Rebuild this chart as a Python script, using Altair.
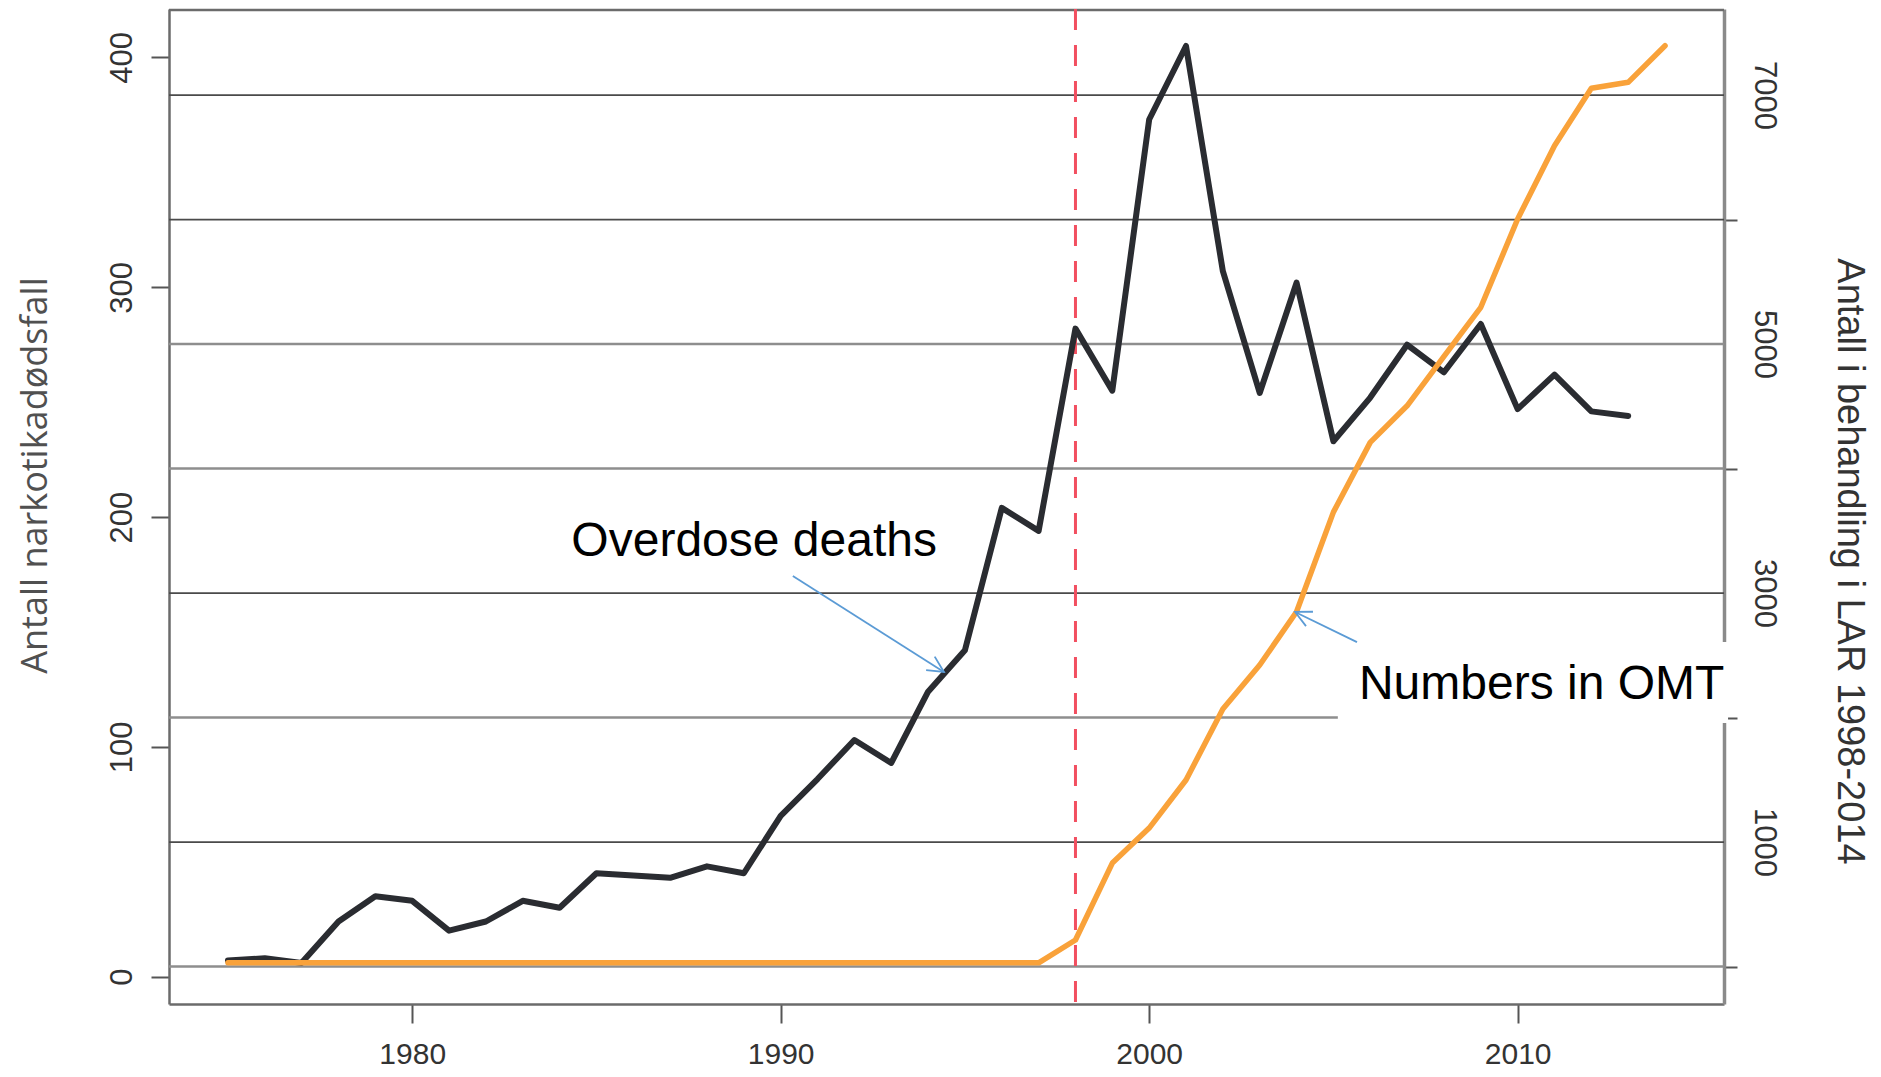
import altair as alt
import pandas as pd

# ---------------- data ----------------
years_deaths = list(range(1975, 2014))
deaths = [7, 8, 6, 24, 35, 33, 20, 24, 33, 30,
          45, 44, 43, 48, 45, 70, 86, 103, 93, 124,
          142, 204, 194, 282, 255, 373, 405, 307, 254, 302,
          233, 252, 275, 263, 284, 247, 262, 246, 244]

years_omt = list(range(1975, 2015))
omt = [30] * 23 + [213, 831, 1112, 1498, 2068, 2422, 2850, 3650, 4210,
                   4504, 4901, 5295, 6004, 6593, 7054, 7102, 7396]

x_ticks = [1980, 1990, 2000, 2010]
left_ticks = [0, 100, 200, 300, 400]
right_ticks = [0, 1000, 2000, 3000, 4000, 5000, 6000, 7000]
grid_dark = [1000, 3000, 6000, 7000]
grid_light = [0, 2000, 4000, 5000]
marker_year = [1998]

left_title = "Antall narkotikadødsfall"
right_title = "Antall i behandling i LAR 1998-2014"

# annotations (data coordinates: year, left-axis value)
ann_text = ["Overdose deaths", "Numbers in OMT"]
ann_x = [1989.28, 2010.65]
ann_y = [183.1, 120.8]
arrow_x1 = [1990.33, 2005.64]
arrow_y1 = [174.4, 145.6]
arrow_x2 = [1994.43, 2003.96]
arrow_y2 = [132.6, 158.7]
arrow_angle = [32.45, 205.8]
box_x1, box_x2, box_y1, box_y2 = [2005.12], [2015.71], [110.4], [145.6]

# ---------------- scales ----------------
X_DOM = [1973.4, 2015.6]
YL_DOM = [-11.9, 421.1]
YR_DOM = [-301, 7691]
xs = alt.Scale(domain=X_DOM, nice=False, zero=False)
yl = alt.Scale(domain=YL_DOM, nice=False, zero=False)
yr = alt.Scale(domain=YR_DOM, nice=False, zero=False)

W, H = 1555, 995

x_axis = alt.Axis(orient="bottom", values=x_ticks, format="d", title=None, grid=False,
                  tickSize=19, tickColor="#555", tickWidth=2, labelPadding=16,
                  labelFont="Liberation Sans", labelFontSize=30, labelColor="#333",
                  labelFlush=False, labelOverlap=False,
                  domain=True, domainColor="#6b6b6b", domainWidth=2.5)

left_axis = alt.Axis(orient="left", values=left_ticks, format="d", grid=False,
                     tickSize=18, tickColor="#555", tickWidth=2, labelPadding=20,
                     labelAngle=270, labelAlign="center", labelBaseline="alphabetic",
                     labelFont="Liberation Sans", labelFontSize=31, labelColor="#333",
                     labelFlush=False, labelOverlap=False,
                     domain=True, domainColor="#6b6b6b", domainWidth=2.5,
                     title=left_title, titleFont="Open Sans", titleFontSize=36,
                     titleFontWeight="normal", titleColor="#505050", titleAngle=270,
                     titleX=-134, titleY=466, titleAlign="center", titleBaseline="middle")

right_axis = alt.Axis(orient="right", values=right_ticks, format="d", grid=False,
                      labelExpr="datum.value % 2000 === 0 ? '' : datum.label",
                      tickOpacity={"condition": {"test": "datum.value % 2000 === 0", "value": 1}, "value": 0},
                      tickSize=13, tickColor="#555", tickWidth=2, labelPadding=17,
                      labelAngle=90, labelAlign="center", labelBaseline="alphabetic",
                      labelFont="Liberation Sans", labelFontSize=31, labelColor="#333",
                      labelFlush=False, labelOverlap=False,
                      domain=True, domainColor="#8a8a8a", domainWidth=3.5,
                      title=right_title, titleFont="Liberation Sans", titleFontSize=38,
                      titleFontWeight="normal", titleColor="#333", titleAngle=90,
                      titleX=113, titleY=552, titleAlign="center", titleBaseline="alphabetic")

# ---------------- layers ----------------
df_gd = pd.DataFrame({"r": grid_dark})
df_gl = pd.DataFrame({"r": grid_light})

grid_d = alt.Chart(df_gd).mark_rule(color="#4a4a4a", strokeWidth=1.8).encode(
    y=alt.Y("r:Q", scale=yr, axis=None))
grid_l = alt.Chart(df_gl).mark_rule(color="#8e8e8e", strokeWidth=2.4).encode(
    y=alt.Y("r:Q", scale=yr, axis=None))

top_rule = alt.Chart(pd.DataFrame({"a": [0]})).mark_rule(
    color="#6b6b6b", strokeWidth=2.5).encode(y=alt.value(1))

df_box = pd.DataFrame({"x1": box_x1, "x2": box_x2, "y1": box_y1, "y2": box_y2})
white_box = alt.Chart(df_box).mark_rect(color="white").encode(
    x=alt.X("x1:Q", scale=xs, axis=x_axis), x2="x2:Q",
    y=alt.Y("y1:Q", scale=yl, axis=None), y2="y2:Q")

df_marker = pd.DataFrame({"yr": marker_year})
marker = alt.Chart(df_marker).mark_rule(
    color="#f24f60", strokeWidth=3, strokeDash=[21, 15]).encode(
    x=alt.X("yr:Q", scale=xs, axis=x_axis))

df_d = pd.DataFrame({"year": years_deaths, "deaths": deaths})
line_d = alt.Chart(df_d).mark_line(
    color="#2a2c31", strokeWidth=6, strokeCap="round", strokeJoin="round").encode(
    x=alt.X("year:Q", scale=xs, axis=x_axis),
    y=alt.Y("deaths:Q", scale=yl, axis=left_axis))

df_o = pd.DataFrame({"year": years_omt, "omt": omt})
line_o = alt.Chart(df_o).mark_line(
    color="#f9a23a", strokeWidth=5.5, strokeCap="round", strokeJoin="round").encode(
    x=alt.X("year:Q", scale=xs, axis=x_axis),
    y=alt.Y("omt:Q", scale=yr, axis=right_axis))

df_t = pd.DataFrame({"t": ann_text, "x": ann_x, "y": ann_y})
texts = alt.Chart(df_t).mark_text(
    font="Liberation Sans", fontSize=48, color="black",
    align="center", baseline="alphabetic").encode(
    x=alt.X("x:Q", scale=xs, axis=x_axis),
    y=alt.Y("y:Q", scale=yl, axis=None), text="t:N")

df_a = pd.DataFrame({"x1": arrow_x1, "y1": arrow_y1, "x2": arrow_x2,
                     "y2": arrow_y2, "ang": arrow_angle})
shafts = alt.Chart(df_a).mark_rule(color="#5b9bd5", strokeWidth=1.8).encode(
    x=alt.X("x1:Q", scale=xs, axis=x_axis), x2="x2:Q",
    y=alt.Y("y1:Q", scale=yl, axis=None), y2="y2:Q")
heads = alt.Chart(df_a).mark_point(
    shape="M-1,-0.5L0,0L-1,0.5", filled=False, color="#5b9bd5",
    strokeWidth=1.8, size=1024, opacity=1).encode(
    x=alt.X("x2:Q", scale=xs, axis=x_axis),
    y=alt.Y("y2:Q", scale=yl, axis=None),
    angle=alt.Angle("ang:Q", scale=None))

chart = alt.layer(
    grid_d, grid_l, top_rule, white_box, marker, line_d, line_o,
    shafts, heads, texts
).resolve_scale(y="independent").properties(
    width=W, height=H,
    autosize=alt.AutoSizeParams(type="none"),
    padding={"left": 161, "top": 1, "right": 149, "bottom": 65},
    background="white",
).configure_view(strokeWidth=0)

chart.save("out.html", embed_options={"renderer": "svg", "actions": False})
